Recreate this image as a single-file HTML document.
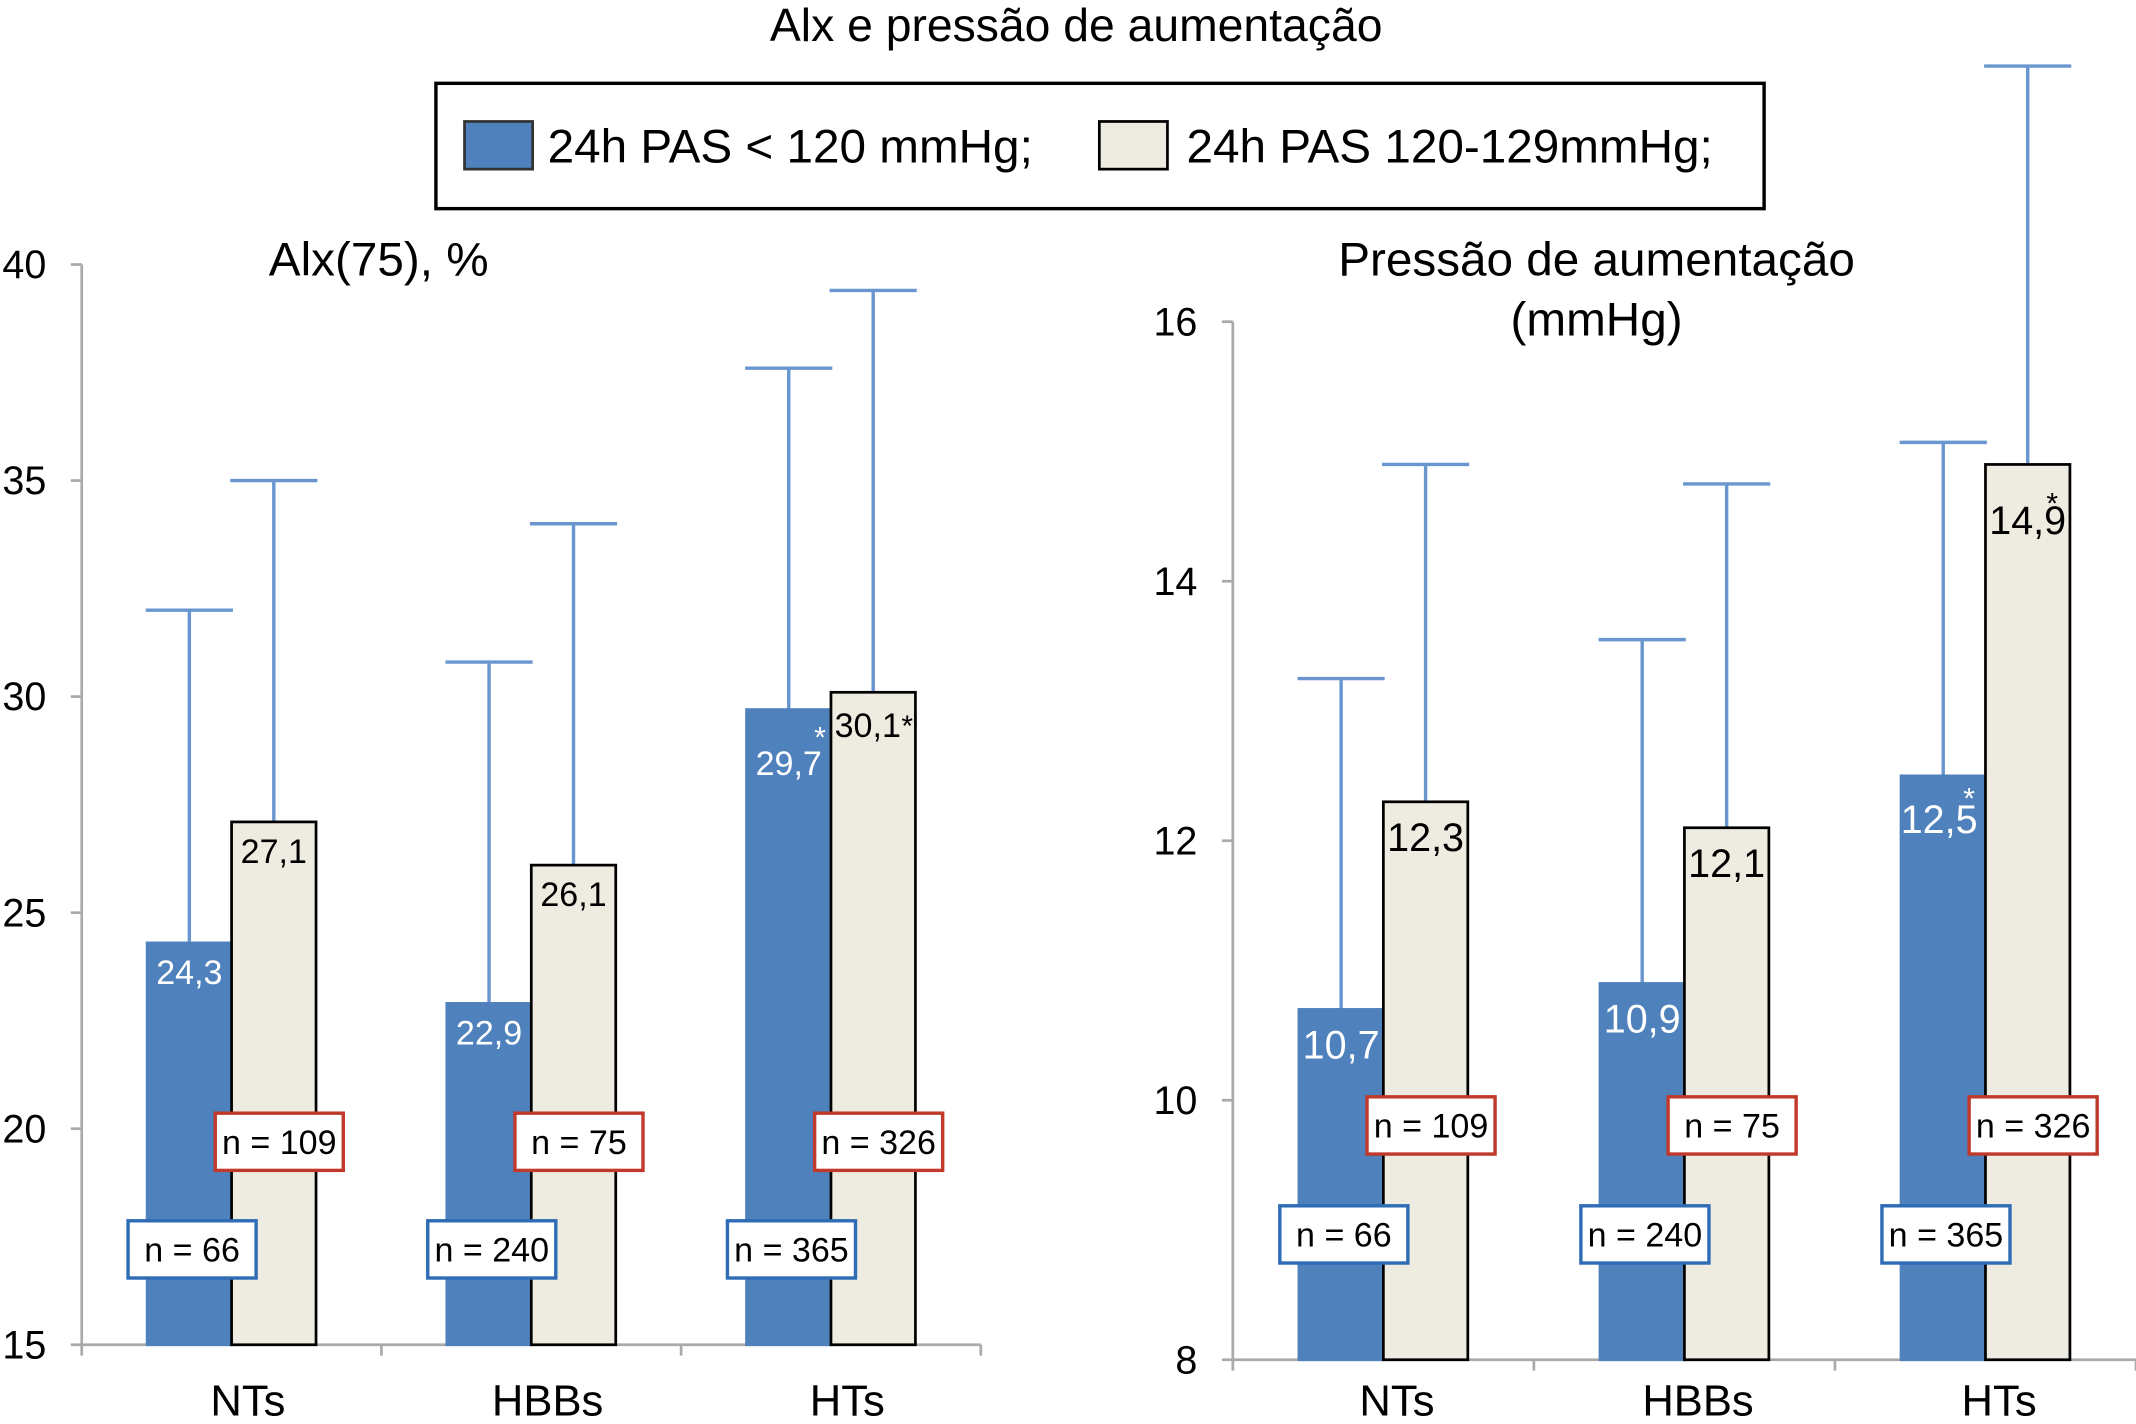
<!DOCTYPE html>
<html><head><meta charset="utf-8"><style>
html,body{margin:0;padding:0;background:#fff}
svg{display:block;font-family:"Liberation Sans",Arial,sans-serif}
</style></head><body>
<svg id="c" width="2136" height="1424" viewBox="0 0 1568 1045">
<text x="790" y="30" font-size="34" text-anchor="middle">Alx e pressão de aumentação</text>
<g>
<rect x="320" y="61" width="975" height="92" fill="none" stroke="#000" stroke-width="2.5"/>
<rect x="341" y="89" width="50" height="35" fill="#4f81bd" stroke="#333" stroke-width="2"/>
<text x="402" y="119" font-size="35">24h PAS &lt; 120 mmHg;</text>
<rect x="807" y="89" width="50" height="35" fill="#eeebe1" stroke="#000" stroke-width="2"/>
<text x="871" y="119" font-size="35">24h PAS 120-129mmHg;</text>
</g>
</svg>
<script>
const categories=["NTs","HBBs","HTs"];
const aixBlue=[24.3,22.9,29.7];
const aixBeige=[27.1,26.1,30.1];
const aixBlueErr=[32.0,30.8,37.6];
const aixBeigeErr=[35.0,34.0,39.4];
const aixNBlue=["n = 66","n = 240","n = 365"];
const aixNBeige=["n = 109","n = 75","n = 326"];
const aixTicks=[15,20,25,30,35,40];
const apBlue=[10.7,10.9,12.5];
const apBeige=[12.3,12.1,14.9];
const apBlueErr=[13.25,13.55,15.07];
const apBeigeErr=[14.9,14.75,17.97];
const apTicks=[8,10,12,14,16];
const blueLabels=["24,3","22,9","29,7"];
const beigeLabels=["27,1","26,1","30,1"];
const apBlueLabels=["10,7","10,9","12,5"];
const apBeigeLabels=["12,3","12,1","14,9"];
const NS="http://www.w3.org/2000/svg";
const svg=document.getElementById('c');
function mk(t,a,p){const e=document.createElementNS(NS,t);for(const k in a)e.setAttribute(k,a[k]);(p||svg).appendChild(e);return e;}
function panel(o){
 const g=mk('g',{});
 
 
 const y=v=>o.y0-(v-o.vmin)*(o.y0-o.y1)/(o.vmax-o.vmin);
 mk('line',{x1:o.ax,y1:y(o.vmax),x2:o.ax,y2:o.y0,stroke:'#aaa','stroke-width':2},g);
 mk('line',{x1:o.ax,y1:o.y0,x2:o.xe,y2:o.y0,stroke:'#aaa','stroke-width':2},g);
 o.ticks.forEach(t=>{mk('line',{x1:o.ax-8,y1:y(t),x2:o.ax,y2:y(t),stroke:'#aaa','stroke-width':2},g);
  const tx=mk('text',{x:o.ax-26,y:y(t)+10,'font-size':29,'text-anchor':'end'},g);tx.textContent=t;
  
  });
 const gw=(o.xe-o.ax)/3;
 for(let i=0;i<=3;i++)mk('line',{x1:o.ax+i*gw,y1:o.y0,x2:o.ax+i*gw,y2:o.y0+8,stroke:'#aaa','stroke-width':2},g);
 categories.forEach((c,i)=>{
  const cx=o.ax+gw*(i+0.5)+o.shift, bw=62;
  const l=mk('text',{x:cx+o.lx,y:1039,'font-size':32,'text-anchor':'middle'},g);l.textContent=c;
  
  
  [[o.blue,o.bErr,'#4f81bd','#4f81bd',cx-bw,o.bl,'#fff','blue',o.bStar],[o.beige,o.eErr,'#eeebe1','#000',cx,o.el,'#000','beige',o.eStar]].forEach(([vals,errs,f,s,x,labs,tc,nm,star])=>{
   mk('line',{x1:x+bw/2,y1:y(errs[i]),x2:x+bw/2,y2:y(vals[i]),stroke:'#6a96cf','stroke-width':2.5},g);
   mk('line',{x1:x+bw/2-32,y1:y(errs[i]),x2:x+bw/2+32,y2:y(errs[i]),stroke:'#6a96cf','stroke-width':2.5},g);
   const r=mk('rect',{x:x,y:y(vals[i]),width:bw,height:o.y0-y(vals[i]),fill:f,stroke:s,'stroke-width':2},g);
   
   
   const sp=star&&star[i];
   const t=mk('text',{x:x+bw/2+(sp?sp[3]:0),y:y(vals[i])+(sp?sp[2]:o.lo),'font-size':o.lf,'text-anchor':'middle',fill:tc},g);t.textContent=labs[i];
   
   
   if(sp){const st=mk('text',{x:x+bw/2+sp[0],y:y(vals[i])+sp[1],'font-size':22,'text-anchor':'middle',fill:tc},g);st.textContent='*';
    
    }
  });
  [[o.nb[i],cx-76,o.nby,'#2e6db5'],[o.ne[i],cx-12,o.ney,'#c0392b']].forEach(([txt,x,yy,col])=>{
   const b=mk('rect',{x:x,y:yy,width:94,height:42,fill:'#fff',stroke:col,'stroke-width':2.5},g);
   
   
   const t=mk('text',{x:x+47,y:yy+30,'font-size':25,'text-anchor':'middle'},g);t.textContent=txt;
   
   
  });
 });
}
panel({name:'aix-panel',ax:60,xe:720,y0:987,y1:194,vmin:15,vmax:40,ticks:aixTicks,shift:0,lx:12,blue:aixBlue,beige:aixBeige,bErr:aixBlueErr,eErr:aixBeigeErr,bl:blueLabels,el:beigeLabels,nb:aixNBlue,ne:aixNBeige,nby:896,ney:817,lo:30,lf:25,bStar:[null,null,[23,28,48,0]],eStar:[null,null,[25,32,33,-4]]});
panel({name:'ap-panel',ax:905,xe:1568,y0:998,y1:236,vmin:8,vmax:16,ticks:apTicks,shift:0,lx:10,blue:apBlue,beige:apBeige,bErr:apBlueErr,eErr:apBeigeErr,bl:apBlueLabels,el:apBeigeLabels,nb:aixNBlue,ne:aixNBeige,nby:885,ney:805,lo:36,lf:29,bStar:[null,null,[19,24,42,-3]],eStar:[null,null,[18,36,51,0]]});
[[278,202,'Alx(75), %','aix-title'],[1172,202,'Pressão de aumentação','ap-title'],[1172,246,'(mmHg)','ap-title-unit']].forEach(([x,yy,s,n])=>{
 const t=mk('text',{x:x,y:yy,'font-size':35,'text-anchor':'middle'});t.textContent=s;
 
 
});
</script>
</body></html>
